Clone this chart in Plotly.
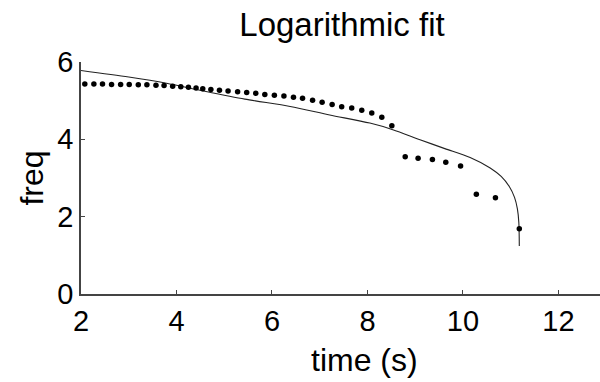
import plotly.graph_objects as go

# Measured points (time in s, frequency)
time_pts = [2.08, 2.27, 2.45, 2.64, 2.83, 3.01, 3.20, 3.38, 3.57, 3.74, 3.92, 4.09,
            4.25, 4.41, 4.55, 4.72, 4.90, 5.08, 5.28, 5.47, 5.66, 5.85, 6.05, 6.25,
            6.45, 6.64, 6.85, 7.05, 7.26, 7.46, 7.67, 7.88, 8.09, 8.30, 8.51, 8.79,
            9.06, 9.36, 9.64, 9.95, 10.28, 10.68, 11.18]
freq_pts = [5.43, 5.43, 5.43, 5.42, 5.42, 5.42, 5.41, 5.41, 5.40, 5.39, 5.37, 5.36,
            5.35, 5.33, 5.31, 5.29, 5.27, 5.25, 5.23, 5.21, 5.19, 5.16, 5.14, 5.12,
            5.09, 5.06, 5.01, 4.96, 4.90, 4.84, 4.81, 4.75, 4.68, 4.57, 4.35, 3.55,
            3.51, 3.48, 3.41, 3.31, 2.58, 2.49, 1.69]

# Logarithmic fit curve
fit_time = [2.00, 3.00, 3.79, 4.49, 5.43, 6.38, 7.21, 8.05, 8.53, 9.10, 9.62, 10.15,
            10.57, 10.80, 10.97, 11.08, 11.14, 11.17, 11.18]
fit_freq = [5.78, 5.61, 5.45, 5.27, 5.04, 4.85, 4.63, 4.42, 4.25, 3.99, 3.76, 3.53,
            3.26, 3.04, 2.78, 2.50, 2.20, 1.85, 1.24]

x_ticks = [2, 4, 6, 8, 10, 12]
y_ticks = [0, 2, 4, 6]

FONT = "Liberation Sans, Arial, sans-serif"

fig = go.Figure()
fig.add_trace(go.Scatter(x=fit_time, y=fit_freq, mode="lines",
                         line=dict(color="#222222", width=1.1, shape="spline", smoothing=0.8),
                         showlegend=False))
fig.add_trace(go.Scatter(x=time_pts, y=freq_pts, mode="markers",
                         marker=dict(color="black", size=5.5),
                         showlegend=False))

fig.update_layout(
    width=600, height=382,
    margin=dict(l=81, r=0, t=62, b=88, pad=0),
    paper_bgcolor="white", plot_bgcolor="white",
    font=dict(family=FONT, color="black", size=29),
    title=dict(text="Logarithmic fit", x=0.57, xanchor="center", y=0.935, yanchor="middle",
               font=dict(family=FONT, size=33, color="black")),
    xaxis=dict(range=[2, 12.87], tickvals=x_ticks, ticktext=[str(v) for v in x_ticks],
               showgrid=False, zeroline=False, showline=True, linecolor="#444444", linewidth=1.5,
               ticks="inside", ticklen=4, tickcolor="#444444", tickwidth=1,
               tickfont=dict(size=29)),
    yaxis=dict(range=[0, 6], tickvals=y_ticks, ticktext=[str(v) for v in y_ticks],
               showgrid=False, zeroline=False, showline=True, linecolor="#444444", linewidth=1.5,
               ticks="inside", ticklen=4, tickcolor="#444444", tickwidth=1,
               tickfont=dict(size=29), title=dict(text="freq", font=dict(size=32), standoff=4)),
    annotations=[dict(text="time (s)", xref="paper", yref="paper", x=0.547, y=-0.285,
                      xanchor="center", yanchor="middle", showarrow=False,
                      font=dict(family=FONT, size=32, color="black"))],
)

fig.write_html("out.html")
